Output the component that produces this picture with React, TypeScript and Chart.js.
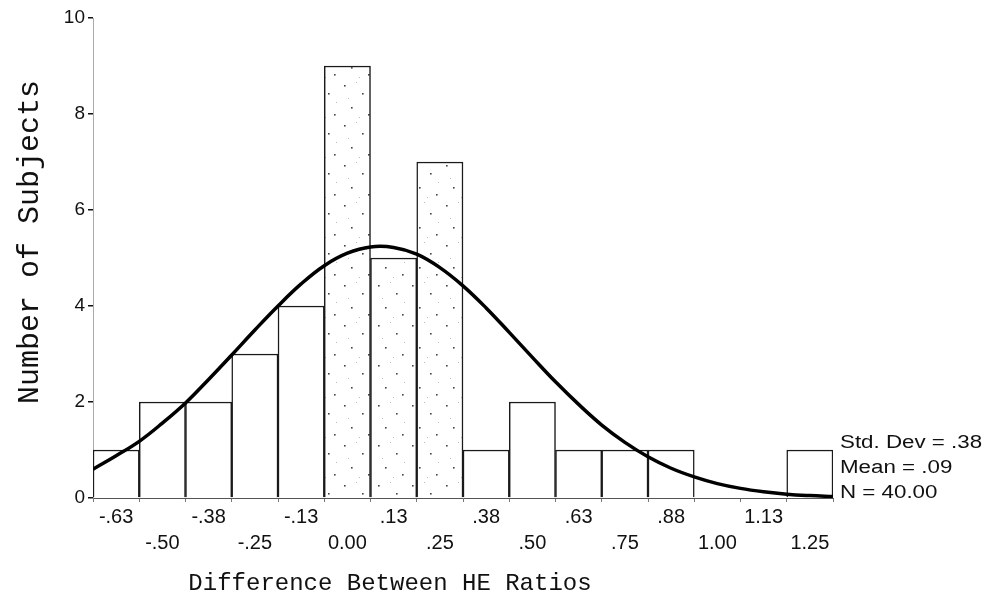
import React, { useEffect, useRef } from "react";
import { Chart, registerables } from "chart.js";

Chart.register(...registerables);

const binLabels = ["-.63", "-.50", "-.38", "-.25", "-.13", "0.00", ".13", ".25", ".38", ".50", ".63", ".75", ".88", "1.00", "1.13", "1.25"];
const subjectCounts = [1, 2, 2, 3, 4, 9, 5, 7, 1, 2, 1, 1, 1, 0, 0, 1];
const stippledBins = ["0.00", ".13", ".25"];

const curveX = [
  -0.6875, -0.625, -0.5625, -0.5, -0.4375, -0.375, -0.3125, -0.25, -0.1875, -0.125, -0.0625,
  0, 0.0625, 0.125, 0.1875, 0.25, 0.3125, 0.375, 0.4375, 0.5, 0.5625, 0.625, 0.6875,
  0.75, 0.8125, 0.875, 0.9375, 1.0, 1.0625, 1.125, 1.1875, 1.25, 1.3125,
];
const curveY = [
  0.6, 0.88, 1.18, 1.56, 1.98, 2.47, 2.98, 3.5, 4.0, 4.46, 4.84,
  5.1, 5.23, 5.22, 5.08, 4.8, 4.42, 3.96, 3.45, 2.93, 2.42, 1.95, 1.52,
  1.16, 0.86, 0.62, 0.44, 0.3, 0.2, 0.13, 0.08, 0.05, 0.03,
];

const yTicks = [0, 2, 4, 6, 8, 10];
const xTitle = "Difference Between HE Ratios";
const yTitle = "Number of Subjects";
const statsLines = ["Std. Dev = .38", "Mean = .09", "N = 40.00"];

function makeStipple(): CanvasPattern | string {
  const c = document.createElement("canvas");
  c.width = 34;
  c.height = 40;
  const g = c.getContext("2d");
  if (!g) return "#f6f6f6";
  g.fillStyle = "#ffffff";
  g.fillRect(0, 0, 34, 40);
  g.fillStyle = "#444444";
  const dots = [[4, 5], [22, 13], [11, 27], [28, 34]];
  dots.forEach(([x, y]) => g.fillRect(x, y, 1.6, 1.6));
  g.fillStyle = "#bbbbbb";
  [[16, 2], [8, 18], [30, 22], [19, 37]].forEach(([x, y]) => g.fillRect(x, y, 1, 1));
  const p = g.createPattern(c, "repeat");
  return p || "#f6f6f6";
}

export default function App() {
  const ref = useRef<HTMLCanvasElement | null>(null);

  useEffect(() => {
    if (!ref.current) return;
    const stipple = makeStipple();

    const textPlugin = {
      id: "textPlugin",
      afterDraw(chart: any) {
        const ctx = chart.ctx;
        ctx.save();
        ctx.fillStyle = "#111";
        ctx.textAlign = "center";
        ctx.textBaseline = "middle";
        ctx.font = '24px "Liberation Mono", monospace';
        ctx.fillText(xTitle, 390, 584);
        ctx.save();
        ctx.translate(30, 242);
        ctx.rotate(-Math.PI / 2);
        ctx.font = '30px "Liberation Mono", monospace';
        ctx.fillText(yTitle, 0, 0);
        ctx.restore();
        ctx.textAlign = "left";
        ctx.font = '18px "Liberation Sans", Arial, sans-serif';
        statsLines.forEach((line, i) => {
          ctx.save();
          ctx.translate(840, 443 + i * 25);
          ctx.scale(1.24, 1);
          ctx.fillText(line, 0, 0);
          ctx.restore();
        });
        ctx.restore();
      },
    };

    const chart = new Chart(ref.current, {
      type: "bar",
      data: {
        labels: binLabels,
        datasets: [
          {
            type: "bar",
            data: subjectCounts,
            xAxisID: "x",
            yAxisID: "y",
            grouped: false,
            backgroundColor: binLabels.map((l) => (stippledBins.includes(l) ? stipple : "#ffffff")),
            borderColor: "#1a1a1a",
            borderWidth: 1.5,
            borderSkipped: "start",
            barPercentage: 1,
            categoryPercentage: 1,
            order: 1,
          } as any,
          {
            type: "line",
            data: curveX.map((x, i) => ({ x, y: curveY[i] })),
            xAxisID: "x2",
            yAxisID: "y",
            borderColor: "#000",
            borderWidth: 3.5,
            pointRadius: 0,
            tension: 0.4,
            fill: false,
            order: 0,
          } as any,
        ],
      },
      options: {
        responsive: false,
        animation: false,
        layout: { padding: { left: 0, right: 159, top: 18, bottom: 0 } },
        plugins: { legend: { display: false }, tooltip: { enabled: false } },
        scales: {
          x: {
            type: "category",
            offset: true,
            afterFit: (s: any) => {
              s.height = 105;
            },
            grid: { display: true, drawOnChartArea: false, tickLength: 4, tickColor: "#777", lineWidth: 1 },
            border: { display: true, color: "#555", dash: [6, 3], width: 1 },
            ticks: {
              autoSkip: false,
              maxRotation: 0,
              minRotation: 0,
              padding: 2,
              color: "#111",
              font: { family: '"Liberation Sans", Arial, sans-serif', size: 20, lineHeight: 1.3 },
              callback: function (this: any, value: any, index: number) {
                const lab = binLabels[index];
                return index % 2 === 0 ? [lab] : ["", lab];
              },
            },
          },
          x2: {
            type: "linear",
            display: false,
            offset: false,
            grid: { offset: false },
            min: curveX[0],
            max: curveX[curveX.length - 1],
          },
          y: {
            min: 0,
            max: 10,
            afterFit: (s: any) => {
              s.width = 93;
            },
            afterBuildTicks: (s: any) => {
              s.ticks = yTicks.map((v) => ({ value: v }));
            },
            grid: { display: true, drawOnChartArea: false, tickLength: 5, tickColor: "#111", lineWidth: 1.5 },
            border: { display: true, color: "#aaa", dash: [4, 3], width: 1 },
            ticks: {
              padding: 3,
              color: "#111",
              font: { family: '"Liberation Sans", Arial, sans-serif', size: 19 },
            },
          },
        },
      },
      plugins: [textPlugin],
    });

    return () => chart.destroy();
  }, []);

  return (
    <div style={{ position: "fixed", left: 0, top: 0, width: 992, height: 603, background: "#fff" }}>
      <canvas ref={ref} width={992} height={603} />
    </div>
  );
}
